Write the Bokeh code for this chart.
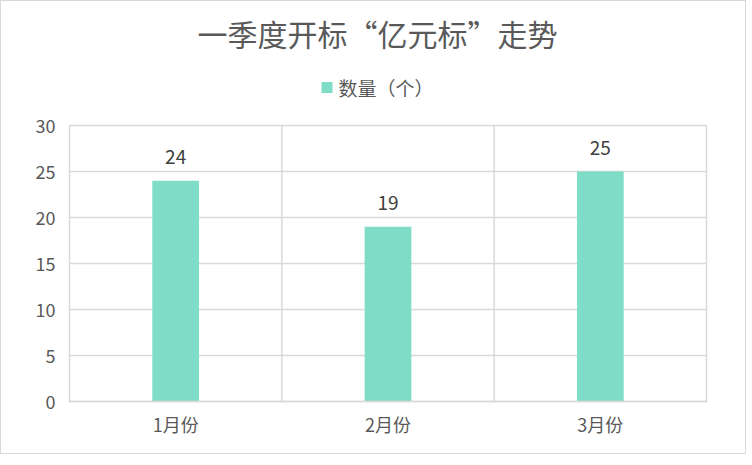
from bokeh.plotting import figure
from bokeh.layouts import column
from bokeh.models import (ColumnDataSource, Range1d, FactorRange, Span, LabelSet,
                          SingleIntervalTicker)
from bokeh.core.properties import value
from bokeh.embed import file_html
from bokeh.resources import INLINE

categories = ["1月份", "2月份", "3月份"]
counts = [24, 19, 25]
series_name = "数量（个）"
title_text = "一季度开标“亿元标”走势"

FONT = "Noto Sans CJK SC"
TXT = "#595959"
GRID = "#d9d9d9"
BAR = "#7fdcc6"

W = 744
LEFT, RIGHT = 68, 39
HEAD_H = 110
MAIN_H = 342

# ---------- header: title + legend (x range in page pixels) ----------
h = figure(x_range=Range1d(LEFT, W - RIGHT), y_range=Range1d(0, HEAD_H), width=W,
           height=HEAD_H, output_backend="svg", toolbar_location=None,
           min_border_left=LEFT, min_border_right=RIGHT, min_border_top=0,
           min_border_bottom=0)
h.axis.visible = False
h.grid.visible = False
h.outline_line_color = None
h.text(x=[376], y=[HEAD_H - 31], text=[title_text], text_align="center",
       text_baseline="middle", text_font=value(FONT), text_font_size="30px",
       text_color=TXT)
h.rect(x=[325.5], y=[HEAD_H - 86], width=11, height=11, width_units="screen",
       height_units="screen", fill_color=BAR, line_color=None)
h.text(x=[337], y=[HEAD_H - 86], text=[series_name], text_align="left",
       text_baseline="middle", text_font=value(FONT), text_font_size="19px",
       text_color=TXT)

# ---------- main chart ----------
src = ColumnDataSource(dict(cat=categories, val=counts, lab=[str(v) for v in counts]))

p = figure(x_range=FactorRange(*categories), y_range=Range1d(0, 30),
           width=W, height=MAIN_H, output_backend="svg", toolbar_location=None,
           min_border_left=LEFT, min_border_right=RIGHT, min_border_bottom=52,
           min_border_top=14)

r = p.vbar(x="cat", top="val", width=0.22, source=src, fill_color=BAR, line_color=None)

labels = LabelSet(x="cat", y="val", text="lab", source=src, text_align="center",
                  text_baseline="middle", y_offset=24, text_font=value(FONT),
                  text_font_size="19px", text_color="#404040")
p.add_layout(labels)

p.xgrid.visible = False
for i in range(1, len(categories)):
    p.add_layout(Span(location=i, dimension="height", line_color=GRID, line_width=1.5))
p.outline_line_color = GRID
p.outline_line_width = 1.5

p.ygrid.grid_line_color = GRID
p.ygrid.grid_line_width = 1.5
p.yaxis.ticker = SingleIntervalTicker(interval=5)
p.yaxis.axis_line_color = None
p.yaxis.major_tick_line_color = None
p.yaxis.minor_tick_line_color = None
p.yaxis.major_label_text_font = FONT
p.yaxis.major_label_text_font_size = "18px"
p.yaxis.major_label_text_color = TXT
p.yaxis.major_label_standoff = 8

p.xaxis.axis_line_color = GRID
p.xaxis.axis_line_width = 1.5
p.xaxis.major_tick_line_color = None
p.xaxis.minor_tick_line_color = None
p.xaxis.major_label_text_font = FONT
p.xaxis.major_label_text_font_size = "18px"
p.xaxis.major_label_text_color = TXT
p.xaxis.major_label_standoff = 3

layout = column(h, p, spacing=0, styles={"border": "1px solid #d9d9d9"})

open("out.html", "w").write(file_html(layout, INLINE))
